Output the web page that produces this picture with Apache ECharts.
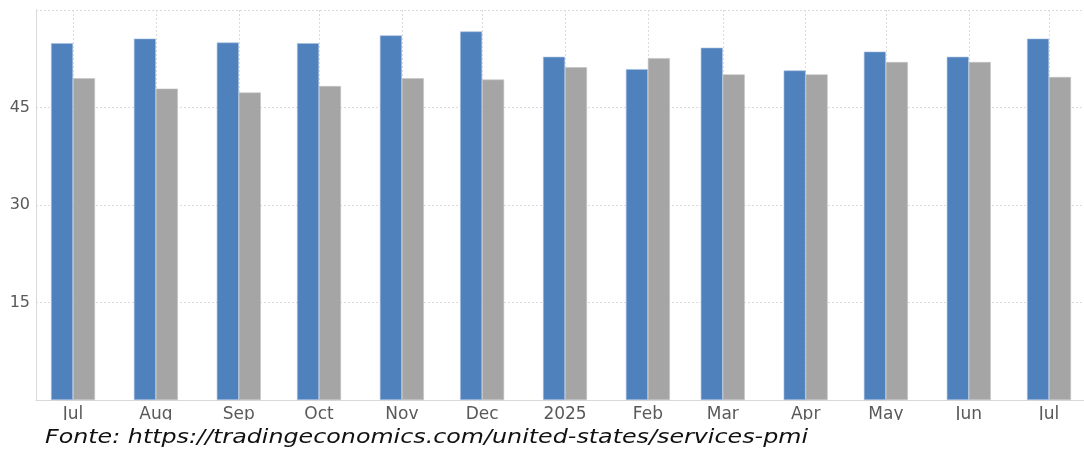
<!DOCTYPE html>
<html>
<head>
<meta charset="utf-8">
<style>
html,body{margin:0;padding:0;background:#fff;}
#chart{width:1084px;height:452px;}
</style>
<script src="https://cdn.jsdelivr.net/npm/echarts@6/dist/echarts.min.js"></script>
</head>
<body>
<div id="chart"></div>
<script>
// Month dates (categories)
const months = ['2024-07-01','2024-08-01','2024-09-01','2024-10-01','2024-11-01','2024-12-01',
  '2025-01-01','2025-02-01','2025-03-01','2025-04-01','2025-05-01','2025-06-01','2025-07-01'];
// Series values
const blueValues = [54.9, 55.6, 55.0, 54.9, 56.1, 56.7, 52.8, 50.9, 54.2, 50.7, 53.6, 52.8, 55.6];
const grayValues = [49.5, 47.9, 47.3, 48.3, 49.5, 49.3, 51.2, 52.6, 50.1, 50.1, 52.0, 52.0, 49.7];
// Tick labels
const monthNames = ['Jan','Feb','Mar','Apr','May','Jun','Jul','Aug','Sep','Oct','Nov','Dec'];
const yTicks = [15, 30, 45];
const caption = 'Fonte: https://tradingeconomics.com/united-states/services-pmi';

function parseD(s){ const p = s.split('-'); return new Date(+p[0], +p[1]-1, +p[2]).getTime(); }

const captionFont = 'italic 19px "DejaVu Sans"';
const mctx = document.createElement('canvas').getContext('2d');
mctx.font = captionFont;
const captionScale = 763 / mctx.measureText(caption).width;

const chart = echarts.init(document.getElementById('chart'));
const DAY = 86400000;
chart.setOption({
  animation: false,
  grid: { left: 36, right: 0, top: 10, bottom: 52 },
  xAxis: {
    type: 'time',
    min: new Date(2024, 5, 25, 9, 20).getTime(),
    max: new Date(2025, 6, 5, 20, 40).getTime(),
    minInterval: 28 * DAY,
    maxInterval: 31 * DAY,
    axisLine: { show: true, lineStyle: { color: '#d9d9d9', width: 1 } },
    axisTick: { show: false },
    splitLine: { show: true, lineStyle: { color: '#dcdcdc', type: [2, 2], width: 1 } },
    axisLabel: {
      color: '#595959',
      fontFamily: 'DejaVu Sans',
      fontSize: 17,
      margin: 6,
      showMinLabel: false,
      showMaxLabel: false,
      formatter: function (val) {
        const d = new Date(val);
        return d.getMonth() === 0 ? String(d.getFullYear()) : monthNames[d.getMonth()];
      }
    }
  },
  yAxis: {
    type: 'value',
    min: 0, max: 60, interval: 15,
    axisLine: { show: true, lineStyle: { color: '#d9d9d9', width: 1 } },
    axisTick: { show: false },
    splitLine: { show: true, lineStyle: { color: '#dcdcdc', type: [2, 2], width: 1 } },
    axisLabel: {
      color: '#595959',
      fontFamily: 'DejaVu Sans',
      fontSize: 16,
      margin: 6,
      formatter: function (v) { return yTicks.indexOf(v) >= 0 ? String(v) : ''; }
    }
  },
  series: [
    {
      type: 'bar',
      barWidth: 22,
      barGap: '0%',
      data: months.map((m, i) => [parseD(m), blueValues[i]]),
      itemStyle: { color: '#4f81bd', borderColor: '#a7c0e0', borderWidth: 0.6 }
    },
    {
      type: 'bar',
      barWidth: 22,
      barGap: '0%',
      data: months.map((m, i) => [parseD(m), grayValues[i]]),
      itemStyle: { color: '#a5a5a5', borderColor: '#c4c4c4', borderWidth: 0.6 }
    }
  ],
  graphic: [
    { type: 'rect', left: 0, top: 420, z: 100, shape: { width: 1084, height: 32 }, style: { fill: '#fff' } },
    { type: 'text', x: 45, y: 438, scaleX: captionScale, z: 101,
      style: { text: caption, fill: '#111', font: captionFont, verticalAlign: 'middle', align: 'left' } }
  ]
});
</script>
</body>
</html>
